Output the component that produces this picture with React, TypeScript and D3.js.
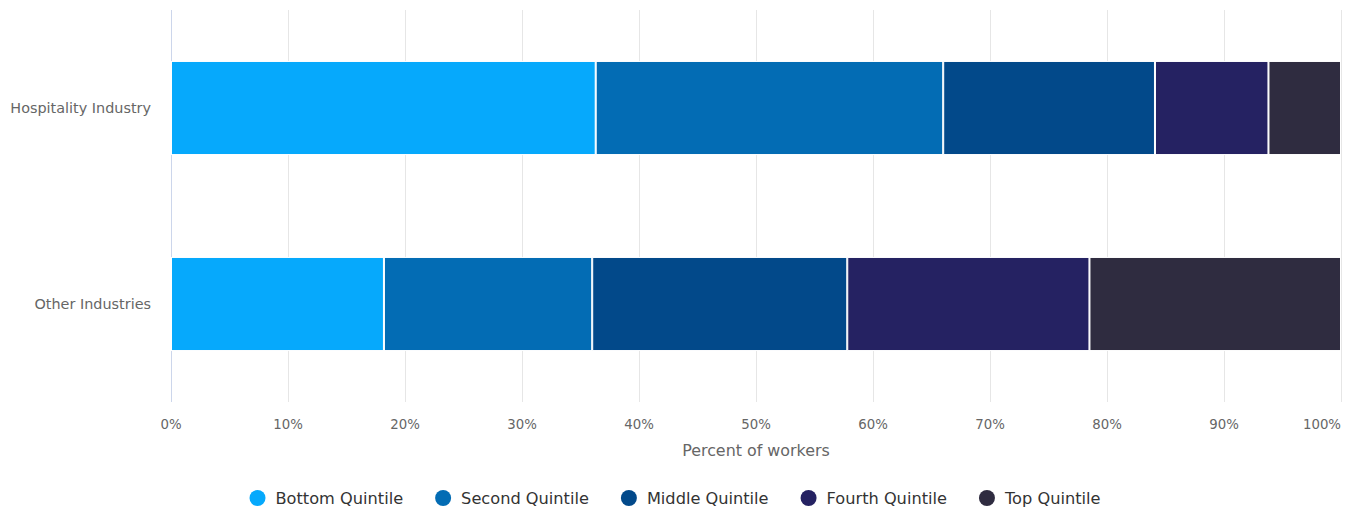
import React, { useEffect, useRef } from "react";
import * as d3 from "d3";

const categories = ["Hospitality Industry", "Other Industries"];
const seriesNames = ["Bottom Quintile", "Second Quintile", "Middle Quintile", "Fourth Quintile", "Top Quintile"];
const seriesColors = ["#06a9fc", "#036cb4", "#02498a", "#252262", "#2f2c40"];
const bottomQ = [36.3, 18.2];
const secondQ = [29.7, 17.8];
const middleQ = [18.1, 21.8];
const fourthQ = [9.7, 20.7];
const topQ = [6.2, 21.5];
const tickValues = [0, 10, 20, 30, 40, 50, 60, 70, 80, 90, 100];

const W = 1356, H = 512;
const FONT = "'DejaVu Sans', Verdana, sans-serif";

export default function App() {
  const ref = useRef<SVGSVGElement>(null);
  useEffect(() => {
    const svg = d3.select(ref.current);
    svg.selectAll("*").remove();
    const left = 171, right = 1341, top = 10, bottom = 402;
    const x = d3.scaleLinear().domain([0, 100]).range([left, right]);
    const y = d3.scaleBand().domain(categories).range([top, bottom]).paddingInner(0.52).paddingOuter(0.26);
    const all = [bottomQ, secondQ, middleQ, fourthQ, topQ];
    const rows = categories.map((c, i) => {
      const r: any = { cat: c };
      seriesNames.forEach((s, j) => (r[s] = all[j][i]));
      return r;
    });
    const stacked = d3.stack().keys(seriesNames)(rows);

    // grid
    svg.append("g").selectAll("line").data(tickValues.slice(1)).join("line")
      .attr("x1", (d) => x(d) + 0.5).attr("x2", (d) => x(d) + 0.5)
      .attr("y1", top).attr("y2", bottom).attr("stroke", "#e6e6e6").attr("stroke-width", 1);
    svg.append("line").attr("x1", left + 0.5).attr("x2", left + 0.5).attr("y1", top).attr("y2", bottom)
      .attr("stroke", "#ccd6eb").attr("stroke-width", 1);

    // bars
    stacked.forEach((layer, j) => {
      svg.append("g").selectAll("rect").data(layer).join("rect")
        .attr("x", (d) => x(d[0]) + 0.5)
        .attr("width", (d) => Math.max(0, x(d[1]) - x(d[0]) - 1))
        .attr("y", (d: any) => (y(d.data.cat) as number) + 0.5)
        .attr("height", y.bandwidth() - 1)
        .attr("fill", seriesColors[j])
        .attr("stroke", "#ffffff").attr("stroke-width", 1);
    });

    // category labels
    svg.append("g").selectAll("text").data(categories).join("text")
      .attr("x", 151).attr("y", (d) => (y(d) as number) + y.bandwidth() / 2 + 5)
      .attr("text-anchor", "end").attr("font-family", FONT).attr("font-size", 14.4).attr("fill", "#666666")
      .text((d) => d);

    // x tick labels
    svg.append("g").selectAll("text").data(tickValues).join("text")
      .attr("x", (d) => (d === 100 ? right : x(d)))
      .attr("y", 429)
      .attr("text-anchor", (d) => (d === 100 ? "end" : "middle"))
      .attr("font-family", FONT).attr("font-size", 13.3).attr("fill", "#666666")
      .text((d) => d + "%");

    svg.append("text").attr("x", (left + right) / 2).attr("y", 456).attr("text-anchor", "middle")
      .attr("font-family", FONT).attr("font-size", 15.9).attr("fill", "#666666").text("Percent of workers");

    // legend
    const lg = svg.append("g");
    const items = seriesNames.map((name, i) => {
      const g = lg.append("g");
      g.append("circle").attr("cx", 0).attr("cy", 0).attr("r", 8).attr("fill", seriesColors[i]);
      const t = g.append("text").attr("x", 18).attr("y", 6).attr("font-family", FONT).attr("font-size", 16.2)
        .attr("fill", "#333333").text(name);
      const w = (t.node() as SVGTextElement).getComputedTextLength();
      return { g, w: 18 + w };
    });
    const gap = 40;
    const total = d3.sum(items, (d) => d.w) + gap * (items.length - 1);
    let cx = 671 - total / 2 + 8;
    items.forEach((it) => {
      it.g.attr("transform", `translate(${cx},${498})`);
      cx += it.w + gap;
    });
  }, []);
  return <svg ref={ref} width={W} height={H} style={{ display: "block", position: "absolute", left: 0, top: 0 }} />;
}
